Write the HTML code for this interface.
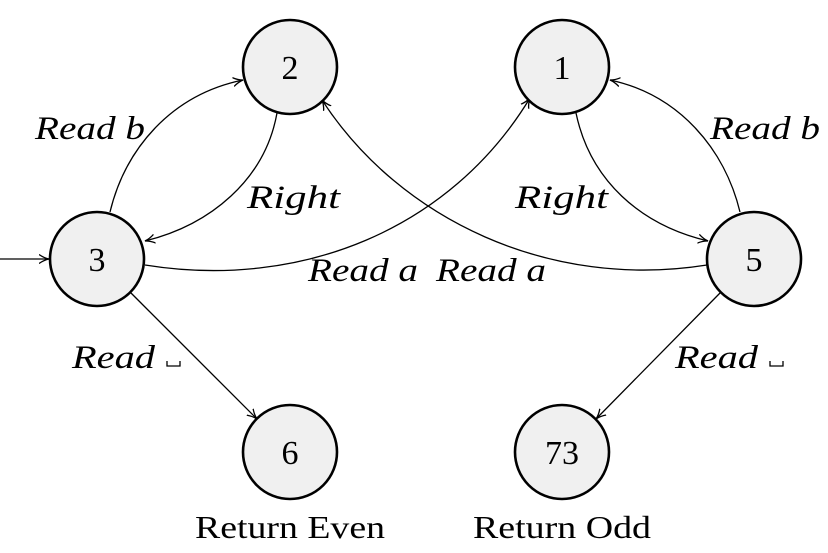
<!DOCTYPE html>
<html><head><meta charset="utf-8"><style>
html,body{margin:0;padding:0;background:#fff;}
svg{display:block;}
.n{fill:#f0f0f0;stroke:#000;stroke-width:2.6;}
.e{fill:none;stroke:#000;stroke-width:1.3;marker-end:url(#a);}
.t{font-family:"Liberation Serif",serif;font-size:34px;}
.l{font-family:"Liberation Serif",serif;font-style:italic;font-size:33px;}
.r{font-family:"Liberation Serif",serif;font-size:32px;}
</style></head><body>
<svg width="828" height="553" viewBox="0 0 828 553">
<defs><marker id="a" markerWidth="12" markerHeight="10" refX="10" refY="5" orient="auto" markerUnits="userSpaceOnUse">
<path d="M0,0.5 Q5,4 10,5 Q5,6 0,9.5" fill="none" stroke="#000" stroke-width="1.3"/></marker></defs>
<line class="e" x1="0" y1="259" x2="49" y2="259"/>
<path class="e" d="M110,212 C125,150 170,95 243,80"/>
<path class="e" d="M277,113 C265,180 210,225 145,241"/>
<path class="e" d="M145,265 C300,290 450,230 530,98"/>
<path class="e" d="M707,265 C550,290 400,220 322,100"/>
<path class="e" d="M740,212 C725,150 680,95 610,80"/>
<path class="e" d="M576,113 C590,180 640,225 708,241"/>
<line class="e" x1="131" y1="293" x2="257" y2="419"/>
<line class="e" x1="720" y1="293" x2="596" y2="419"/>
<circle class="n" cx="290" cy="67" r="47"/>
<circle class="n" cx="562" cy="67" r="47"/>
<circle class="n" cx="97" cy="259" r="47"/>
<circle class="n" cx="754" cy="259" r="47"/>
<circle class="n" cx="290" cy="452" r="47"/>
<circle class="n" cx="562" cy="452" r="47"/>
<g class="t" text-anchor="middle">
<text x="290" y="79">2</text><text x="562" y="79">1</text>
<text x="97" y="271">3</text><text x="754" y="271">5</text>
<text x="290" y="464">6</text><text x="562" y="464">73</text>
</g>
<g class="l">
<text x="35" y="139" textLength="110" lengthAdjust="spacingAndGlyphs">Read b</text>
<text x="247" y="208" textLength="93" lengthAdjust="spacingAndGlyphs">Right</text>
<text x="308" y="281" textLength="110" lengthAdjust="spacingAndGlyphs">Read a</text>
<text x="436" y="281" textLength="110" lengthAdjust="spacingAndGlyphs">Read a</text>
<text x="710" y="139" textLength="110" lengthAdjust="spacingAndGlyphs">Read b</text>
<text x="515" y="208" textLength="93" lengthAdjust="spacingAndGlyphs">Right</text>
<text x="72" y="368" textLength="83" lengthAdjust="spacingAndGlyphs">Read</text>
<text x="675" y="368" textLength="83" lengthAdjust="spacingAndGlyphs">Read</text>
</g>
<path d="M167,361 v5 h13 v-5" fill="none" stroke="#000" stroke-width="1.3"/>
<path d="M770,361 v5 h13 v-5" fill="none" stroke="#000" stroke-width="1.3"/>
<g class="r">
<text x="195" y="538" textLength="190" lengthAdjust="spacingAndGlyphs">Return Even</text>
<text x="473" y="538" textLength="178" lengthAdjust="spacingAndGlyphs">Return Odd</text>
</g>
</svg>
</body></html>
